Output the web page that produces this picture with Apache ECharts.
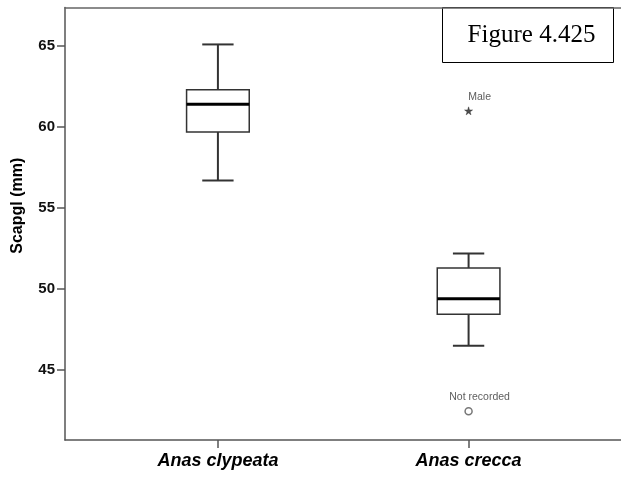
<!DOCTYPE html>
<html>
<head>
<meta charset="utf-8">
<script src="https://cdn.jsdelivr.net/npm/echarts@6/dist/echarts.min.js"></script>
<style>
html,body{margin:0;padding:0;background:#fff;}
#chart{width:621px;height:479px;}
</style>
</head>
<body>
<div id="chart"></div>
<script>
// ---- data ----
const categories = ['Anas clypeata', 'Anas crecca'];
const whiskerLow  = [56.7, 46.5];
const quartile1   = [59.7, 48.45];
const medianVals  = [61.4, 49.4];
const quartile3   = [62.3, 51.3];
const whiskerHigh = [65.1, 52.2];

const outlierCategory = [2, 2];           // 1-based category position
const outlierValue    = [61.0, 42.45];
const outlierLabel    = ['Male', 'Not recorded'];
const outlierKind     = ['extreme', 'outlier'];

const yTicks = [45, 50, 55, 60, 65];
const yLabel = 'Scapgl (mm)';
const figureLabel = 'Figure 4.425';

// ---- build ----
const boxData = categories.map((c, i) => [i + 1, whiskerLow[i], quartile1[i], medianVals[i], quartile3[i], whiskerHigh[i]]);
const starPath = 'path://M50,0 L61,35 L98,35 L68,57 L79,91 L50,70 L21,91 L32,57 L2,35 L39,35 Z';
const outlierData = outlierValue.map((v, i) => ({
  value: [outlierCategory[i], v],
  symbol: outlierKind[i] === 'extreme' ? starPath : 'circle',
  symbolSize: outlierKind[i] === 'extreme' ? 8 : 7,
  itemStyle: outlierKind[i] === 'extreme'
    ? { color: '#222', borderColor: '#222', borderWidth: 0.5 }
    : { color: '#fff', borderColor: '#555', borderWidth: 1.5 },
  label: { formatter: outlierLabel[i] }
}));

const BOX_W = 0.25;
const lineColor = '#333';

const chart = echarts.init(document.getElementById('chart'), null, { renderer: 'canvas' });
chart.setOption({
  animation: false,
  backgroundColor: '#fff',
  grid: { left: 65, right: -1, top: 7.5, bottom: 39, containLabel: false },
  xAxis: [{
    type: 'value', min: 0.39, max: 2.608,
    splitLine: { show: false },
    axisLine: { show: true, onZero: false, lineStyle: { color: '#555', width: 1.5 } },
    axisTick: { show: true, customValues: [1, 2], length: 8, lineStyle: { color: '#555', width: 1.5 } },
    axisLabel: {
      customValues: [1, 2], margin: 12,
      formatter: v => categories[Math.round(v) - 1] || '',
      fontFamily: 'Liberation Sans, Arial, sans-serif', fontWeight: 'bold', fontStyle: 'italic',
      fontSize: 18, color: '#000'
    }
  }, {
    type: 'value', position: 'top', min: 0.39, max: 2.608,
    splitLine: { show: false },
    axisLine: { show: true, onZero: false, lineStyle: { color: '#666', width: 1.5 } },
    axisTick: { show: false }, axisLabel: { show: false }
  }],
  yAxis: {
    type: 'value', min: 40.68, max: 67.38,
    name: yLabel, nameLocation: 'middle', nameGap: 39,
    nameTextStyle: {
      fontFamily: 'Liberation Sans, Arial, sans-serif', fontWeight: 'bold', fontSize: 16, color: '#000',
      padding: [0, 0, 0, 36]
    },
    splitLine: { show: false },
    axisLine: { show: true, onZero: false, lineStyle: { color: '#555', width: 1.5 } },
    axisTick: { show: true, customValues: yTicks, length: 8, lineStyle: { color: '#555', width: 1.5 } },
    axisLabel: {
      customValues: yTicks, margin: 10,
      fontFamily: 'Liberation Sans, Arial, sans-serif', fontWeight: 'bold', fontSize: 15, color: '#111'
    }
  },
  series: [{
    type: 'custom',
    data: boxData,
    renderItem: function (params, api) {
      const x = api.value(0);
      const lo = api.coord([x, api.value(1)]);
      const q1 = api.coord([x, api.value(2)]);
      const md = api.coord([x, api.value(3)]);
      const q3 = api.coord([x, api.value(4)]);
      const hi = api.coord([x, api.value(5)]);
      const bw = api.size([BOX_W, 0])[0];
      const cw = bw / 2;
      const st = { stroke: lineColor, lineWidth: 2, fill: null };
      return {
        type: 'group',
        children: [
          { type: 'line', shape: { x1: hi[0], y1: hi[1], x2: q3[0], y2: q3[1] }, style: st },
          { type: 'line', shape: { x1: q1[0], y1: q1[1], x2: lo[0], y2: lo[1] }, style: st },
          { type: 'line', shape: { x1: hi[0] - cw / 2, y1: hi[1], x2: hi[0] + cw / 2, y2: hi[1] }, style: st },
          { type: 'line', shape: { x1: lo[0] - cw / 2, y1: lo[1], x2: lo[0] + cw / 2, y2: lo[1] }, style: st },
          { type: 'rect', shape: { x: q3[0] - bw / 2, y: q3[1], width: bw, height: q1[1] - q3[1] },
            style: { stroke: lineColor, lineWidth: 1.5, fill: '#fff' } },
          { type: 'line', shape: { x1: md[0] - bw / 2, y1: md[1], x2: md[0] + bw / 2, y2: md[1] },
            style: { stroke: '#000', lineWidth: 3 } }
        ]
      };
    }
  }, {
    type: 'scatter',
    data: outlierData,
    label: {
      show: true, position: 'top', offset: [11, 1],
      fontFamily: 'Liberation Sans, Arial, sans-serif', fontSize: 10.5, color: '#333'
    }
  }],
  graphic: [{
    type: 'group', left: 442, top: 7,
    children: [
      { type: 'rect', shape: { x: 0, y: 0, width: 171, height: 55 },
        style: { fill: '#fff', stroke: '#000', lineWidth: 1 } },
      { type: 'text', x: 89, y: 28,
        style: { text: figureLabel, fill: '#000', font: '25px "Liberation Serif", "Times New Roman", serif',
                 textAlign: 'center', textVerticalAlign: 'middle' } }
    ]
  }]
});
</script>
</body>
</html>
